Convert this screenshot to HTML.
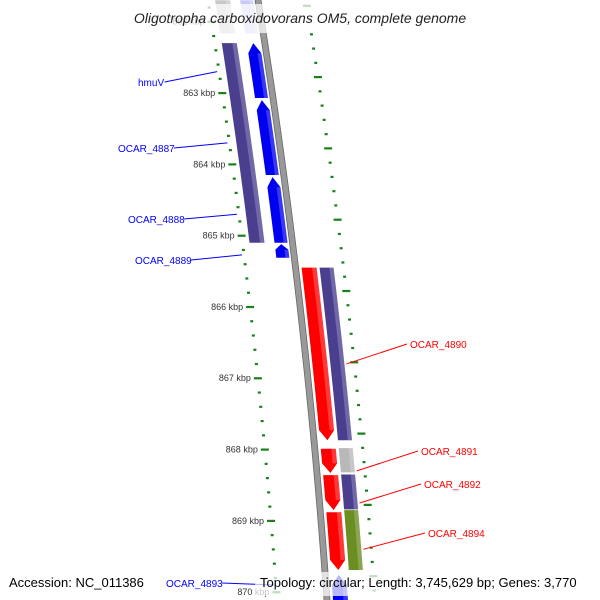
<!DOCTYPE html>
<html><head><meta charset="utf-8"><style>
body{margin:0;background:#fff}
svg{display:block;font-family:"Liberation Sans","DejaVu Sans",sans-serif}
</style></head><body>
<svg id="map" width="600" height="600" viewBox="0 0 600 600" xmlns="http://www.w3.org/2000/svg">
<g id="ticks"></g>
<g id="backbone-g"></g>
<g id="genes"></g>
<g id="labels"></g>
<rect x="110" y="4" width="380" height="29" fill="#fff" opacity="0.72"/>
<text x="300" y="23" text-anchor="middle" font-size="14" font-style="italic" fill="#222">Oligotropha carboxidovorans OM5, complete genome</text>
<rect x="255" y="572" width="340" height="24" fill="#fff" opacity="0.72"/>
<text x="9" y="587" font-size="13" fill="#000">Accession: NC_011386</text>
<text x="260" y="587" font-size="13" fill="#000">Topology: circular; Length: 3,745,629 bp; Genes: 3,770</text>
</svg>
<script>
// data (kbp positions)
const geneStarts = [861.70, 862.30, 861.70, 862.30, 863.10, 864.18, 865.12, 865.45, 865.45, 867.99, 867.98, 868.36, 868.35, 868.88, 868.85, 869.76];
const geneEnds   = [862.16, 865.10, 862.16, 863.07, 864.15, 865.10, 865.31, 867.87, 867.87, 868.33, 868.32, 868.85, 868.84, 869.69, 869.69, 870.20];
const geneTracks = ["lo","lo","li","li","li","li","li","ri","ro","ri","ro","ri","ro","ri","ro","ri"];
const geneColors = ["#c8c8c8","#4a3f8f","#c8c8f8","#0000f0","#0000f0","#0000f0","#0000f0","#ff0000","#4a3f8f","#ff0000","#b8b8b8","#ff0000","#4a3f8f","#ff0000","#6b8e23","#0000f0"];
const geneArrows = ["","","","up","up","up","up","down","","down","","down","","down","","up"];
const majorTicks = [862,863,864,865,866,867,868,869,870];
const labelNames = ["hmuV","OCAR_4887","OCAR_4888","OCAR_4889","OCAR_4890","OCAR_4891","OCAR_4892","OCAR_4894","OCAR_4893"];
const labelKbp   = [862.70, 863.70, 864.70, 865.27, 866.80, 868.30, 868.75, 869.40, 869.90];
const labelSide  = ["L","L","L","L","R","R","R","R","L"];
const labelPos   = [[138,86],[118,152],[128,223],[135,264],[410,348],[421,455],[424,488],[428,537],[166,587]];

const NS='http://www.w3.org/2000/svg';
function yOf(k){return 93+(k-863)*71.3;}
function cx(y){return 258+0.1606*y-0.000076*y*y;}
const trackOff={lo:[-43,-28],li:[-18,-5],ri:[6,21],ro:[24,38]};
function mk(tag,attrs,parent){const e=document.createElementNS(NS,tag);for(const k in attrs)e.setAttribute(k,attrs[k]);parent.appendChild(e);return e;}
function lighten(c){return c;}

// backbone
const bb=document.getElementById('backbone-g');
let p1=[],p2=[];
for(let y=-5;y<=605;y+=5){p1.push((cx(y)-3)+','+y);p2.unshift((cx(y)+3)+','+y);}
const bbp=mk('polygon',{points:p1.concat(p2).join(' '),fill:'#999',stroke:'#666','stroke-width':'0.8'},bb);



// ticks
const tg=document.getElementById('ticks');
for(let k=861.6;k<=870.4;k+=0.2){
  const kk=Math.round(k*10)/10;
  const major=Math.abs(kk-Math.round(kk))<0.01;
  const y=yOf(kk);
  const w=major?8:3;
  const xl=cx(y)-50;
  const t1=mk('rect',{x:xl-w/2,y:y-1,width:w,height:2.2,fill:'#1a801a'},tg);
  
  
  const yr=y-16;
  const xr=cx(yr)+48;
  const t2=mk('rect',{x:xr-w/2,y:yr-1,width:w,height:2.2,fill:'#1a801a'},tg);
  
  
}
majorTicks.forEach(k=>{
  const y=yOf(k);
  const t=mk('text',{x:cx(y)-57,y:y+3,'font-size':'9','text-anchor':'end',fill:'#333'},tg);
  t.textContent=k+' kbp';
  
  
});

// genes
const gg=document.getElementById('genes');
geneStarts.forEach((s,i)=>{
  const y0=yOf(s),y1=yOf(geneEnds[i]);
  const [o0,o1]=trackOff[geneTracks[i]];
  const arr=geneArrows[i];const ah=Math.min(10,(y1-y0)*0.4);
  let a0=y0,a1=y1;
  if(arr==='up')a0=y0+ah;if(arr==='down')a1=y1-ah;
  const L=[],R=[];
  const n=Math.max(2,Math.ceil((a1-a0)/8));
  for(let j=0;j<=n;j++){const y=a0+(a1-a0)*j/n;L.push([cx(y)+o0,y]);R.push([cx(y)+o1,y]);}
  let pts=[];
  if(arr==='up')pts.push([cx(y0)+(o0+o1)/2,y0]);
  pts=pts.concat(R);
  if(arr==='down')pts.push([cx(y1)+(o0+o1)/2,y1]);
  pts=pts.concat(L.reverse());
  const g=mk('polygon',{points:pts.map(p=>p.join(',')).join(' '),fill:geneColors[i]},gg);
  
  
  // highlight strip
  const w=o1-o0;const h0=o1-w*0.3;
  const S=[];
  for(let j=0;j<=n;j++){const y=a0+(a1-a0)*j/n;S.push([cx(y)+h0,y]);}
  const S2=[];
  for(let j=n;j>=0;j--){const y=a0+(a1-a0)*j/n;S2.push([cx(y)+o1,y]);}
  const h=mk('polygon',{points:S.concat(S2).map(p=>p.join(',')).join(' '),fill:'#fff',opacity:'0.22'},gg);
  
  
});

// labels
const lg=document.getElementById('labels');
labelNames.forEach((nm,i)=>{
  const y=yOf(labelKbp[i]);
  const [lx,ly]=labelPos[i];
  const red=labelSide[i]==='R';
  const col=red?'#ff0000':'#0000ff';
  let x1,x2,y2=ly-4;
  if(red){x1=cx(y)+40;x2=lx-3;}else{x1=cx(y)-52;x2=lx+nm.length*5.9+3;}
  const ln=mk('line',{x1:x1,y1:y,x2:x2,y2:y2,stroke:col,'stroke-width':'1'},lg);
  
  
  const t=mk('text',{x:lx,y:ly,'font-size':'10',fill:col},lg);
  t.textContent=nm;
  
  
});
</script>
</body></html>
